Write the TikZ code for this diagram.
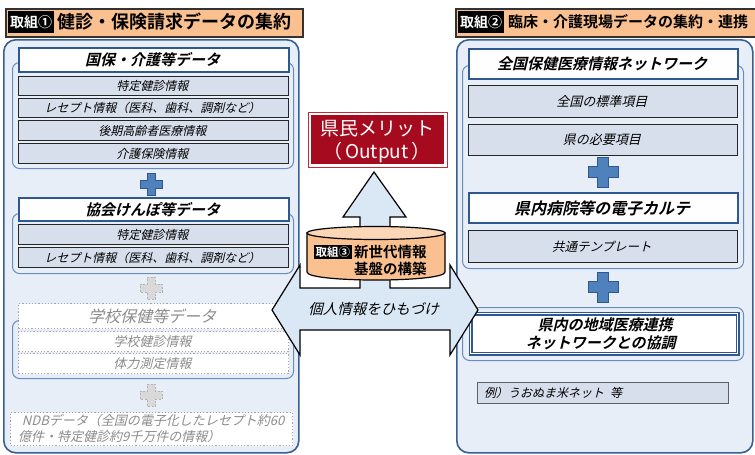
\documentclass[tikz,border=0pt]{standalone}
\usepackage{fontspec}
\newfontfamily\jp{Noto Sans CJK JP}[BoldFont={Noto Sans CJK JP Bold}]
\definecolor{panelF}{RGB}{232,238,247}
\definecolor{panelB}{RGB}{55,95,150}
\definecolor{grpB}{RGB}{105,140,190}
\definecolor{ttlB}{RGB}{47,88,145}
\definecolor{itmF}{RGB}{216,223,236}
\definecolor{peach}{RGB}{250,192,143}
\definecolor{peachT}{RGB}{252,214,182}
\definecolor{arrF}{RGB}{218,232,246}
\definecolor{plusF}{RGB}{79,129,189}
\definecolor{plusB}{RGB}{47,88,145}
\definecolor{outR}{RGB}{165,10,30}
\definecolor{outL}{RGB}{200,40,50}
\definecolor{grayT}{RGB}{140,140,140}
\newcommand\mybox[7]{\node[#2,anchor=north west,minimum width={(#5-#3)*1pt},minimum height={(#6-#4)*1pt}] (#1) at (#3,#4) {};
 \node[#2,draw=none,fill=none,minimum width=0pt,minimum height=0pt,xslant=0.24] (#1-t) at (#1.center) {#7};}
\newcommand\myplus[5]{\draw[#5] ({#1-#4},{#2-#3}) -- ({#1+#4},{#2-#3}) -- ({#1+#4},{#2-#4}) -- ({#1+#3},{#2-#4}) -- ({#1+#3},{#2+#4}) -- ({#1+#4},{#2+#4}) -- ({#1+#4},{#2+#3}) -- ({#1-#4},{#2+#3}) -- ({#1-#4},{#2+#4}) -- ({#1-#3},{#2+#4}) -- ({#1-#3},{#2-#4}) -- ({#1-#4},{#2-#4}) -- cycle;}
\begin{document}
\begin{tikzpicture}[x=1pt,y=-1pt,
 panel/.style={draw=panelB,line width=1.6pt,fill=panelF,rounded corners=12pt,inner sep=0pt},
 grp/.style={draw=grpB,line width=1pt,fill=panelF,rounded corners=7pt,inner sep=0pt},
 ttl/.style={draw=ttlB,line width=2pt,fill=white,inner sep=0pt,font=\jp\bfseries\fontsize{15}{17}\selectfont},
 itm/.style={draw=black!85,line width=1pt,fill=itmF,inner sep=0pt,font=\jp\fontsize{12}{14}\selectfont},
 ditm/.style={draw=gray!70,dotted,line width=1.2pt,fill=white,inner sep=0pt,text=grayT,font=\jp\fontsize{13}{15}\selectfont},
 hdr/.style={draw=black!80,line width=1.5pt,fill=peach,inner sep=0pt},
 tag/.style={fill=black,text=white,inner xsep=2pt,inner ysep=0pt,minimum height=22pt,font=\jp\bfseries\fontsize{14}{16}\selectfont},
 bplus/.style={fill=plusF,draw=plusB,line width=1pt},
 gplus/.style={fill=gray!30,draw=gray!60,line width=1pt,dash pattern=on 2pt off 1.5pt},
 lbl/.style={inner sep=0pt},
]
\useasboundingbox (0,0) rectangle (755,455);
% ---------- left panel ----------
\mybox{Lhdr}{hdr}{5}{8}{302}{36}{}
\node[tag,anchor=west] (Ltag) at (8,22) {取組①};
\node[lbl,anchor=west,font=\jp\bfseries\fontsize{18}{20}\selectfont] (Lhdrtxt) at (57,22) {健診・保険請求データの集約};
\mybox{Lpanel}{panel}{3}{39}{298}{452}{}
% group 1
\mybox{Lg1}{grp}{12}{62}{293}{168}{}
\mybox{Lt1}{ttl}{18}{47}{288}{71}{国保・介護等データ}
\mybox{Li11}{itm}{18}{76}{288}{95}{特定健診情報}
\mybox{Li12}{itm}{18}{98}{288}{117}{レセプト情報（医科、歯科、調剤など）}
\mybox{Li13}{itm}{18}{120}{288}{140}{後期高齢者医療情報}
\mybox{Li14}{itm}{18}{143}{288}{163}{介護保険情報}
\myplus{151}{184}{11}{4}{bplus}
% group 2
\mybox{Lg2}{grp}{12}{213}{293}{273}{}
\mybox{Lt2}{ttl}{18}{197}{288}{220}{協会けんぽ等データ}
\mybox{Li21}{itm}{18}{224}{288}{244}{特定健診情報}
\mybox{Li22}{itm}{18}{247}{288}{267}{レセプト情報（医科、歯科、調剤など）}
\myplus{151}{288}{11}{4}{gplus}
% group 3
\mybox{Lg3}{grp}{12}{320}{293}{378}{}
\mybox{Lt3}{ditm,font=\jp\fontsize{16}{18}\selectfont}{18}{303}{288}{328}{学校保健等データ}
\mybox{Li31}{ditm}{18}{331}{288}{351}{学校健診情報}
\mybox{Li32}{ditm}{18}{353}{288}{373}{体力測定情報}
\myplus{151}{395}{11}{4}{gplus}
\mybox{Lndb}{ditm}{10}{412}{292}{445}{}
\node[lbl,anchor=west,align=left,text=grayT,xslant=0.24,font=\jp\fontsize{13}{16}\selectfont] (Lndbtxt) at (21,428.5) {NDBデータ（全国の電子化したレセプト約60\\億件・特定健診約9千万件の情報）};
% ---------- right panel ----------
\mybox{Rhdr}{hdr}{455}{8}{765}{36}{}
\node[tag,anchor=west] (Rtag) at (458,22) {取組②};
\node[lbl,anchor=west,font=\jp\bfseries\fontsize{15}{17}\selectfont] (Rhdrtxt) at (508,22) {臨床・介護現場データの集約・連携};
\mybox{Rpanel}{panel}{456}{39}{752}{452}{}
\mybox{Rg1}{grp}{462}{65}{743}{268}{}
\mybox{Rt1}{ttl}{468}{48}{737}{78}{全国保健医療情報ネットワーク}
\mybox{Ri11}{itm,font=\jp\fontsize{13}{15}\selectfont}{468}{85}{737}{117}{全国の標準項目}
\mybox{Ri12}{itm,font=\jp\fontsize{13}{15}\selectfont}{468}{124}{737}{155}{県の必要項目}
\myplus{603}{172}{15}{5.5}{bplus}
\mybox{Rt2}{ttl,font=\jp\bfseries\fontsize{16}{18}\selectfont}{468}{192}{737}{222}{県内病院等の電子カルテ}
\mybox{Ri21}{itm,font=\jp\fontsize{12.5}{14}\selectfont}{468}{230}{737}{262}{共通テンプレート}
\myplus{603}{287}{15}{5.5}{bplus}
\mybox{Rg2}{grp}{462}{307}{743}{360}{}
\mybox{Rt3}{ttl,line width=1.4pt,double=white,double distance=0.8pt,align=center,font=\jp\bfseries\fontsize{15}{18}\selectfont}{470}{313}{737}{353}{県内の地域医療連携\\ネットワークとの協調}
\mybox{Rex}{itm,draw=gray!75!black,line width=1.2pt}{477}{382}{728}{403}{}
\node[lbl,anchor=west,xslant=0.24,font=\jp\fontsize{12}{14}\selectfont] (Rextxt) at (485,392.5) {例）うおぬま米ネット\enspace 等};
% ---------- centre ----------
\mybox{Oouter}{draw=outL,line width=1pt,fill=white,inner sep=0pt}{308}{112}{447}{167}{}
\mybox{Oinner}{fill=outR,inner sep=0pt}{311}{115}{444}{164}{}
\node[lbl,text=white,font=\jp\fontsize{19}{21}\selectfont] (Otxt1) at (377,129) {県民メリット};
\node[lbl,text=white,font=\jp\fontsize{19}{21}\selectfont] (Otxt2) at (377,153) {（\hspace{3pt}Output\hspace{3pt}）};
% combined arrow
\draw[fill=arrF,draw=black,line width=1.2pt,line join=miter]
 (374,172) -- (406,217) -- (390,217) -- (390,288) -- (450,288) -- (450,265) -- (478,310)
 -- (450,355) -- (450,330) -- (300,330) -- (300,355) -- (272,310) -- (300,265) -- (300,288)
 -- (360,288) -- (360,217) -- (343,217) -- cycle;
% cylinder
\filldraw[fill=peach,draw=black,line width=1.2pt] (307,233) -- (307,272) .. controls (307,282.7) and (445,282.7) .. (445,272) -- (445,233) -- cycle;
\filldraw[fill=peachT,draw=black,line width=1.2pt] (376,233) ellipse [x radius=69, y radius=6.5];
\node[tag,anchor=west,minimum height=14pt,inner xsep=1.5pt,font=\jp\bfseries\fontsize{11.5}{13}\selectfont] (Ctag) at (314,252) {取組③};
\node[lbl,anchor=west,font=\jp\bfseries\fontsize{14.5}{16}\selectfont] (Ctxt1) at (354,252) {新世代情報};
\node[lbl,anchor=west,font=\jp\bfseries\fontsize{14.5}{16}\selectfont] (Ctxt2) at (354,269) {基盤の構築};
\node[lbl,xslant=0.24,font=\jp\fontsize{14.5}{16}\selectfont] (Alabel) at (375,309) {個人情報をひもづけ};
\end{tikzpicture}
\end{document}
